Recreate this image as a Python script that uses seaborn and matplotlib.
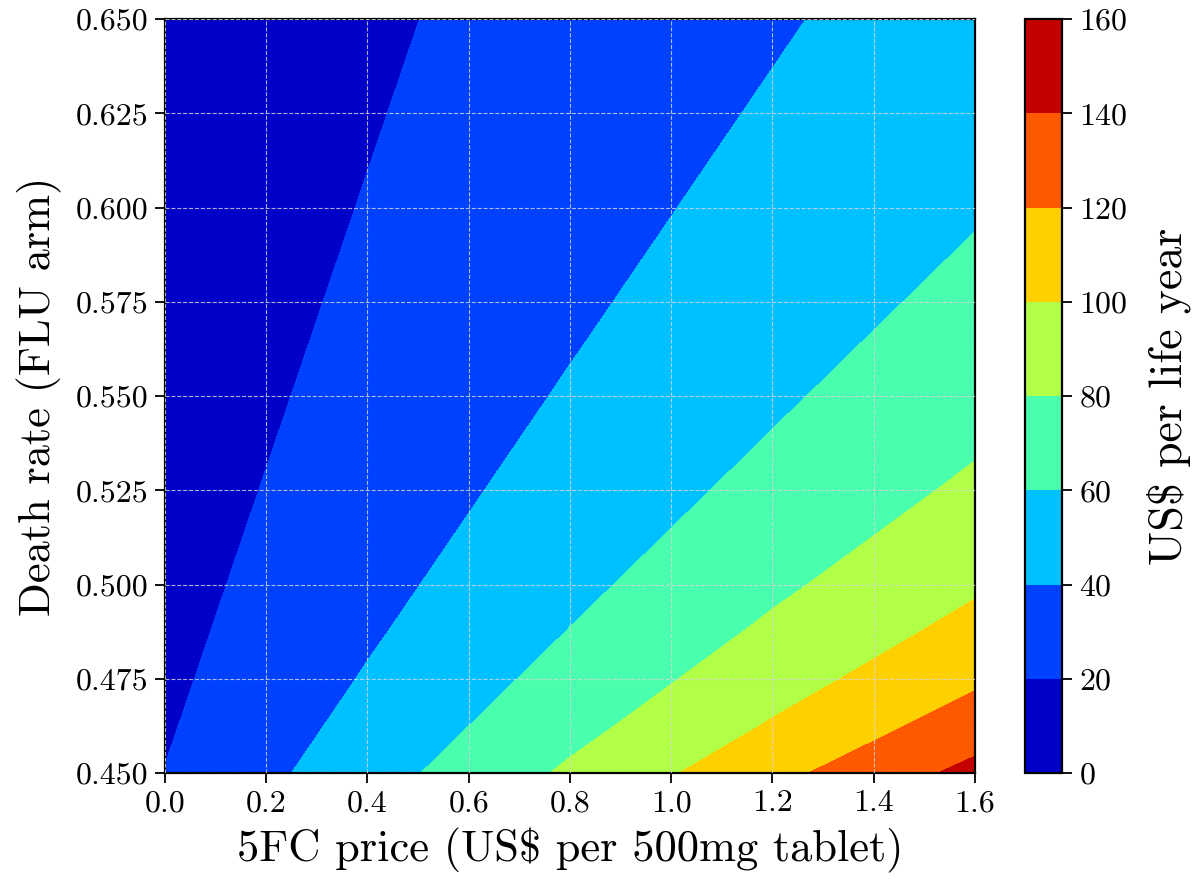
import numpy as np
import pandas as pd
import seaborn as sns
import matplotlib.pyplot as plt

# grid: US$ per life year at each (price, death rate)
price = [0.0, 0.4, 0.8, 1.2, 1.6]
death_rate = [0.4500, 0.4625, 0.4750, 0.4875, 0.5000, 0.5125, 0.5250, 0.5375,
              0.5500, 0.5625, 0.5750, 0.5875, 0.6000, 0.6125, 0.6250, 0.6375, 0.6500]
icer = [
    [20.44, 51.76, 83.07, 114.39, 145.71],
    [18.18, 46.03, 73.88, 101.74, 129.60],
    [16.37, 41.45, 66.53, 91.61, 116.69],
    [14.88, 37.69, 60.50, 83.31, 106.12],
    [13.65, 34.56, 55.48, 76.39, 97.30],
    [12.60, 31.91, 51.22, 70.53, 89.84],
    [11.70, 29.64, 47.57, 65.51, 83.44],
    [10.92, 27.67, 44.41, 61.15, 77.89],
    [10.24, 25.94, 41.64, 57.34, 73.04],
    [9.64, 24.42, 39.20, 53.98, 68.75],
    [9.11, 23.07, 37.02, 50.98, 64.94],
    [8.63, 21.85, 35.08, 48.30, 61.53],
    [8.20, 20.76, 33.33, 45.89, 58.46],
    [7.81, 19.78, 31.75, 43.71, 55.68],
    [7.45, 18.88, 30.30, 41.73, 53.15],
    [7.13, 18.06, 28.99, 39.92, 50.85],
    [6.83, 17.31, 27.78, 38.26, 48.73],
]
levels = [0, 20, 40, 60, 80, 100, 120, 140, 160]

df = pd.DataFrame(icer, index=death_rate, columns=price)

sns.set_style("ticks")
plt.rcParams["font.family"] = "serif"
plt.rcParams["font.serif"] = ["cmr10"]
plt.rcParams["mathtext.fontset"] = "cm"
plt.rcParams["axes.formatter.use_mathtext"] = True
plt.rcParams["axes.unicode_minus"] = False
for k in ["text.color", "axes.labelcolor", "xtick.color", "ytick.color", "axes.edgecolor"]:
    plt.rcParams[k] = "black"

fig = plt.figure(figsize=(11.96, 8.88), dpi=100)
ax = fig.add_axes([0.138, 0.1295, 0.677, 0.849])
cax = fig.add_axes([0.857, 0.1295, 0.031, 0.849])

X, Y = np.meshgrid(df.columns.values, df.index.values)
cf = ax.contourf(X, Y, df.values, levels=levels, cmap="jet")

ax.set_xlim(0, 1.6)
ax.set_ylim(0.45, 0.65)
xt = np.arange(0, 1.61, 0.2)
yt = np.arange(0.45, 0.651, 0.025)
ax.set_xticks(xt)
ax.set_yticks(yt)
ax.set_xticklabels([f"{v:.1f}" for v in xt])
ax.set_yticklabels([f"{v:.3f}" for v in yt])
ax.set_axisbelow(False)
ax.grid(True, linestyle="--", color="#d8d8d8", linewidth=0.8, alpha=0.8)
ax.tick_params(labelsize=23, length=7, width=1.3, direction="out", pad=5)
for s in ax.spines.values():
    s.set_linewidth(1.6)
ax.set_xlabel(r"5FC price (US\$ per 500mg tablet)", fontsize=32, labelpad=8)
ax.set_ylabel("Death rate (FLU arm)", fontsize=32, labelpad=10)

cb = fig.colorbar(cf, cax=cax, ticks=levels)
cb.ax.tick_params(labelsize=23, length=7, width=1.3, pad=5)
cb.outline.set_linewidth(1.6)
cb.set_label(r"US\$ per life year", fontsize=33, labelpad=14)

fig.savefig("out.png", dpi=100)
